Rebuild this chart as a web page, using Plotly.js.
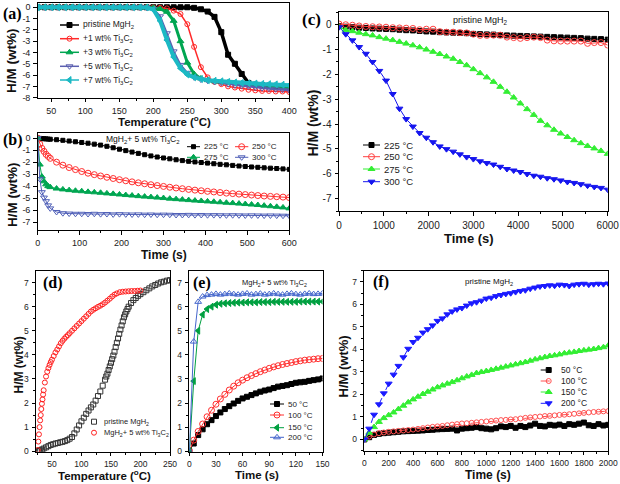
<!DOCTYPE html>
<html><head><meta charset="utf-8">
<script src="https://cdn.plot.ly/plotly-3.0.1.min.js"></script>
<style>html,body{margin:0;padding:0;background:#fff}#chart{width:620px;height:484px}</style>
</head><body><div id="chart"></div>
<script>
// ================= DATA =================
// (a) non-isothermal dehydrogenation
const aTemp=[30,40,50,60,70,80,90,100,110,120,130,140,150,160,170,180,190,200,210,220,230,240,250,260,270,280,290,300,310,320,330,340,350,360,370,380,390,400];
const aPristine=[0,0,0,0,0,0,0,0,0,0,0,0,0,0,0,0,0,0,0,0,0,0,0,-0.05,-0.18,-0.38,-0.85,-2.2,-4.2,-5.0,-5.9,-6.7,-6.85,-6.9,-6.95,-7.0,-7.0,-7.05];
const aTi1=[0,0,0,0,0,0,0,0,0,0,0,0,0,0,0,0,0,-0.02,-0.05,-0.1,-0.3,-0.6,-1.5,-3.5,-5.3,-6.2,-6.6,-6.8,-7.0,-7.1,-7.2,-7.3,-7.35,-7.4,-7.4,-7.45,-7.45,-7.5];
const aTi3=[0,0,0,0,0,0,0,0,0,0,0,0,0,0,0,0,0,-0.05,-0.15,-0.4,-1.2,-3.0,-4.9,-5.9,-6.3,-6.45,-6.55,-6.6,-6.65,-6.7,-6.75,-6.8,-6.85,-6.9,-6.95,-7.0,-7.05,-7.1];
const aTi5=[0,0,0,0,0,0,0,0,0,0,0,0,0,0,0,0,-0.02,-0.15,-0.8,-2.3,-3.9,-5.1,-5.8,-6.2,-6.4,-6.5,-6.6,-6.7,-6.8,-6.9,-6.95,-7.0,-7.1,-7.15,-7.2,-7.25,-7.3,-7.35];
const aTi7=[0,0,0,0,0,0,0,0,0,0,0,0,0,0,0,0,-0.02,-0.2,-1.2,-2.9,-4.4,-5.4,-5.95,-6.2,-6.35,-6.45,-6.5,-6.55,-6.6,-6.65,-6.7,-6.72,-6.75,-6.78,-6.8,-6.82,-6.85,-6.9];

// (b) isothermal dehydrogenation, MgH2 + 5 wt% Ti3C2
const bTime=[0,5,10,15,20,25,30,45,60,75,90,105,120,135,150,165,180,195,210,225,240,255,270,285,300,315,330,345,360,375,390,405,420,435,450,465,480,495,510,525,540,555,570,585,600];
const b225=[0,-0.02,-0.04,-0.05,-0.06,-0.08,-0.09,-0.13,-0.18,-0.24,-0.3,-0.36,-0.42,-0.5,-0.58,-0.68,-0.8,-0.92,-1.04,-1.16,-1.27,-1.38,-1.48,-1.57,-1.65,-1.72,-1.8,-1.87,-1.93,-1.98,-2.03,-2.08,-2.13,-2.18,-2.22,-2.27,-2.32,-2.36,-2.4,-2.43,-2.47,-2.5,-2.53,-2.56,-2.6];
const b250=[0,-0.5,-0.85,-1.1,-1.35,-1.52,-1.68,-2.0,-2.25,-2.45,-2.62,-2.78,-2.92,-3.04,-3.15,-3.26,-3.36,-3.46,-3.55,-3.64,-3.72,-3.8,-3.88,-3.95,-4.02,-4.09,-4.15,-4.21,-4.27,-4.33,-4.38,-4.43,-4.48,-4.53,-4.58,-4.62,-4.66,-4.7,-4.74,-4.78,-4.82,-4.85,-4.88,-4.91,-4.95];
const b275=[0,-2.2,-3.2,-3.6,-3.85,-4.0,-4.08,-4.2,-4.27,-4.33,-4.38,-4.42,-4.47,-4.51,-4.55,-4.6,-4.64,-4.69,-4.74,-4.78,-4.83,-4.87,-4.91,-4.95,-4.99,-5.04,-5.08,-5.12,-5.16,-5.2,-5.23,-5.27,-5.3,-5.34,-5.38,-5.41,-5.45,-5.49,-5.53,-5.57,-5.62,-5.67,-5.72,-5.77,-5.85];
const b300=[0,-3.4,-4.5,-4.95,-5.25,-5.6,-5.85,-6.15,-6.25,-6.28,-6.3,-6.3,-6.32,-6.3,-6.33,-6.32,-6.35,-6.33,-6.35,-6.36,-6.35,-6.37,-6.36,-6.38,-6.37,-6.38,-6.4,-6.4,-6.39,-6.41,-6.4,-6.42,-6.41,-6.42,-6.43,-6.42,-6.43,-6.44,-6.43,-6.44,-6.45,-6.44,-6.45,-6.46,-6.47];

// (c) isothermal dehydrogenation, pristine MgH2
const cTime=[0,150,300,450,600,750,900,1050,1200,1350,1500,1650,1800,1950,2100,2250,2400,2550,2700,2850,3000,3150,3300,3450,3600,3750,3900,4050,4200,4350,4500,4650,4800,4950,5100,5250,5400,5550,5700,5850,6000];
const c225=[-0.05,-0.08,-0.1,-0.12,-0.13,-0.15,-0.16,-0.17,-0.18,-0.2,-0.22,-0.23,-0.25,-0.27,-0.28,-0.3,-0.31,-0.32,-0.33,-0.34,-0.37,-0.38,-0.39,-0.4,-0.42,-0.43,-0.44,-0.45,-0.46,-0.47,-0.48,-0.49,-0.5,-0.51,-0.52,-0.53,-0.54,-0.56,-0.57,-0.58,-0.6];
const c250=[0.03,0.0,-0.02,-0.05,-0.07,-0.08,-0.09,-0.1,-0.12,-0.13,-0.14,-0.15,-0.2,-0.18,-0.18,-0.28,-0.3,-0.3,-0.32,-0.33,-0.38,-0.43,-0.43,-0.42,-0.42,-0.5,-0.52,-0.55,-0.52,-0.5,-0.52,-0.62,-0.65,-0.66,-0.66,-0.66,-0.66,-0.75,-0.72,-0.72,-0.82];
const c275=[-0.1,-0.21,-0.26,-0.32,-0.38,-0.43,-0.5,-0.56,-0.62,-0.69,-0.76,-0.83,-0.91,-1.0,-1.09,-1.18,-1.28,-1.37,-1.5,-1.63,-1.79,-1.95,-2.12,-2.3,-2.5,-2.7,-2.93,-3.17,-3.4,-3.63,-3.87,-4.05,-4.23,-4.38,-4.52,-4.65,-4.77,-4.88,-4.98,-5.08,-5.2];
const c300=[-0.1,-0.38,-0.63,-0.9,-1.17,-1.5,-1.86,-2.25,-2.79,-3.38,-3.8,-4.1,-4.36,-4.55,-4.73,-4.9,-5.01,-5.11,-5.22,-5.33,-5.41,-5.5,-5.57,-5.63,-5.72,-5.81,-5.87,-5.93,-6.01,-6.08,-6.12,-6.18,-6.22,-6.27,-6.33,-6.37,-6.42,-6.48,-6.53,-6.57,-6.64];

// (d) non-isothermal hydrogenation
const dPristineT=[26,28,30,33,36,40,44,48,52,56,60,64,68,72,76,80,84,88,92,96,100,104,108,112,116,120,124,128,132,136,140,142,144,146,148,150,152,154,156,158,160,162,164,166,168,170,172,174,176,178,180,184,188,192,196,200,205,210,215,220,225,230,235,240,245,250];
const dPristine=[0,0.02,0.04,0.07,0.11,0.16,0.21,0.26,0.29,0.32,0.34,0.37,0.39,0.42,0.46,0.52,0.59,0.74,0.9,1.07,1.24,1.39,1.55,1.69,1.82,1.94,2.1,2.29,2.48,2.72,2.97,3.1,3.22,3.37,3.52,3.67,3.82,3.97,4.13,4.32,4.5,4.68,4.87,5.05,5.22,5.39,5.56,5.68,5.8,5.9,6.0,6.15,6.27,6.36,6.45,6.52,6.6,6.68,6.76,6.84,6.9,6.96,7.01,7.04,7.08,7.1];
const dTiT=[26,27,28,29,30,31,32,33,34,35,36,38,40,42,44,46,48,50,53,56,59,62,65,68,71,74,77,80,84,88,92,96,100,104,108,112,116,120,124,128,132,136,140,144,148,152,156,160,165,170,175,180,185,190,195,200];
const dTi=[0.05,0.4,0.7,1.0,1.28,1.5,1.75,1.97,2.15,2.35,2.53,2.85,3.1,3.3,3.45,3.58,3.7,3.8,3.95,4.1,4.22,4.35,4.48,4.58,4.67,4.75,4.82,4.9,5.0,5.1,5.2,5.3,5.4,5.5,5.6,5.7,5.8,5.87,5.93,5.99,6.04,6.1,6.17,6.25,6.33,6.42,6.5,6.55,6.6,6.62,6.63,6.64,6.65,6.65,6.66,6.67];

// (e) isothermal hydrogenation, MgH2 + 5 wt% Ti3C2
const eTime=[0,5,10,15,20,25,30,35,40,45,50,55,60,65,70,75,80,85,90,95,100,105,110,115,120,125,130,135,140,145,150];
const e50=[0,0.32,0.67,0.91,1.12,1.29,1.46,1.61,1.75,1.87,1.98,2.09,2.19,2.26,2.33,2.4,2.47,2.52,2.56,2.62,2.68,2.71,2.74,2.79,2.84,2.86,2.88,2.92,2.95,2.98,3.02];
const e100=[0,0.46,0.82,1.13,1.43,1.7,1.95,2.17,2.36,2.54,2.7,2.84,2.95,3.05,3.14,3.22,3.3,3.37,3.44,3.5,3.55,3.6,3.64,3.68,3.72,3.75,3.78,3.8,3.82,3.84,3.85];
const e150=[0,2.91,5.0,5.67,5.9,6.0,6.08,6.12,6.14,6.15,6.16,6.17,6.17,6.18,6.18,6.18,6.19,6.19,6.19,6.2,6.2,6.2,6.2,6.2,6.2,6.21,6.21,6.21,6.21,6.21,6.21];
const e200=[0,4.55,6.2,6.42,6.48,6.5,6.53,6.5,6.52,6.55,6.52,6.5,6.53,6.55,6.5,6.52,6.54,6.5,6.52,6.55,6.52,6.5,6.53,6.55,6.52,6.5,6.53,6.55,6.52,6.53,6.55];

// (f) isothermal hydrogenation, pristine MgH2
const fTime=[0,40,80,120,160,200,240,280,320,360,400,440,480,520,560,600,640,680,720,760,800,840,880,920,960,1000,1040,1080,1120,1160,1200,1240,1280,1320,1360,1400,1440,1480,1520,1560,1600,1640,1680,1720,1760,1800,1840,1880,1920,1960,2000];
const f50=[0,0.1,0.2,0.25,0.28,0.3,0.32,0.34,0.36,0.37,0.38,0.39,0.4,0.42,0.43,0.45,0.46,0.47,0.48,0.4,0.48,0.5,0.52,0.55,0.5,0.48,0.45,0.5,0.58,0.55,0.6,0.52,0.6,0.55,0.62,0.7,0.6,0.58,0.65,0.62,0.66,0.6,0.68,0.65,0.7,0.75,0.63,0.6,0.68,0.62,0.65];
const f100=[0,0.13,0.22,0.28,0.31,0.34,0.36,0.38,0.4,0.42,0.44,0.47,0.5,0.53,0.56,0.58,0.6,0.63,0.66,0.68,0.71,0.72,0.74,0.76,0.78,0.8,0.82,0.84,0.86,0.87,0.89,0.9,0.93,0.96,0.98,1.0,1.02,1.04,1.05,1.07,1.09,1.1,1.12,1.14,1.16,1.18,1.2,1.22,1.23,1.25,1.26];
const f150=[0,0.3,0.55,0.78,0.95,1.08,1.2,1.35,1.5,1.65,1.78,1.9,2.02,2.12,2.22,2.32,2.4,2.48,2.55,2.63,2.72,2.8,2.87,2.95,3.0,3.04,3.09,3.14,3.19,3.24,3.29,3.34,3.39,3.44,3.5,3.56,3.61,3.66,3.71,3.74,3.78,3.83,3.86,3.89,3.93,3.96,3.99,4.02,4.06,4.1,4.18];
const f200=[0,0.48,1.1,1.56,2.05,2.48,2.88,3.27,3.65,4.03,4.33,4.52,4.75,4.9,5.07,5.27,5.38,5.56,5.69,5.78,5.84,5.95,6.05,6.1,6.17,6.26,6.3,6.37,6.42,6.47,6.5,6.55,6.6,6.63,6.7,6.75,6.8,6.82,6.85,6.83,6.88,6.86,6.82,6.88,6.9,6.92,6.88,6.9,6.92,6.9,6.93];

// ================= STYLE / LAYOUT =================
const FONT='Arial, "Liberation Sans", sans-serif';
const SERIF='"Times New Roman", "Liberation Serif", serif';
const W=620,H=484;
const px=v=>v/W, py=v=>1-v/H;
const TI='Ti<sub>3</sub>C<sub>2</sub>';
const MG='MgH<sub>2</sub>';

const ST={
 aP:{color:'#000000',sym:'square',ms:5,lw:3.5},
 a1:{color:'#ff2a2a',sym:'circle-open',ms:5,lw:1.5},
 a3:{color:'#00a651',sym:'triangle-up',ms:6,lw:3},
 a5:{color:'#5b5fb0',sym:'triangle-down-open',ms:6,lw:2},
 a7:{color:'#1cb9c4',sym:'triangle-left',ms:6,lw:4},
 b225:{color:'#000000',sym:'square',ms:4,lw:1},
 b250:{color:'#ff3030',sym:'circle-open',ms:6,lw:1},
 b275:{color:'#00a651',sym:'triangle-up',ms:6,lw:1},
 b300:{color:'#5060b8',sym:'triangle-down-open',ms:6,lw:1},
 c225:{color:'#000000',sym:'square',ms:5,lw:1},
 c250:{color:'#ff4040',sym:'circle-open',ms:6,lw:1},
 c275:{color:'#33ee33',sym:'triangle-up',ms:6,lw:1},
 c300:{color:'#1515ee',sym:'triangle-down',ms:6,lw:1},
 dP:{color:'#333333',sym:'square-open',ms:5,mode:'markers'},
 dT:{color:'#ff2020',sym:'circle-open',ms:5,mode:'markers'},
 e50:{color:'#000000',sym:'square',ms:5,lw:1},
 e100:{color:'#ff3030',sym:'circle-open',ms:6,lw:1},
 e150:{color:'#00a040',sym:'triangle-left',ms:6,lw:1},
 e200:{color:'#4466cc',sym:'triangle-up-open',ms:6,lw:1},
 f50:{color:'#000000',sym:'square',ms:5,lw:1,dash:'dash'},
 f100:{color:'#ff5050',sym:'circle-open',ms:5,lw:1,dash:'dash'},
 f150:{color:'#33ee33',sym:'triangle-up',ms:6,lw:1,dash:'dash'},
 f200:{color:'#1a1aff',sym:'triangle-down',ms:6,lw:1,dash:'dash'}
};

const traces=[];
function addSeries(ax,x,y,k){
  const st=ST[k];
  traces.push({type:'scatter',x:x,y:y,xaxis:'x'+ax,yaxis:'y'+ax,mode:st.mode||'lines+markers',
    line:{color:st.color,width:st.lw||1,dash:st.dash||'solid'},
    marker:{symbol:st.sym,size:st.ms,color:st.color,line:{color:st.color,width:1}},
    showlegend:false,hoverinfo:'skip'});
}
addSeries('',aTemp,aPristine,'aP');
addSeries('',aTemp,aTi1,'a1');
addSeries('',aTemp,aTi3,'a3');
addSeries('',aTemp,aTi5,'a5');
addSeries('',aTemp,aTi7,'a7');
addSeries('2',bTime,b225,'b225');
addSeries('2',bTime,b250,'b250');
addSeries('2',bTime,b275,'b275');
addSeries('2',bTime,b300,'b300');
addSeries('3',cTime,c225,'c225');
addSeries('3',cTime,c250,'c250');
addSeries('3',cTime,c275,'c275');
addSeries('3',cTime,c300,'c300');
addSeries('4',dPristineT,dPristine,'dP');
addSeries('4',dTiT,dTi,'dT');
addSeries('5',eTime,e50,'e50');
addSeries('5',eTime,e100,'e100');
addSeries('5',eTime,e150,'e150');
addSeries('5',eTime,e200,'e200');
addSeries('6',fTime,f50,'f50');
addSeries('6',fTime,f100,'f100');
addSeries('6',fTime,f150,'f150');
addSeries('6',fTime,f200,'f200');

function axis(dom,range,tv,minorStep,tf,anchor){
  const vals=[];
  for(let v=tv[0]; v<=tv[1]+1e-9; v+=tv[2]) vals.push(+v.toFixed(6));
  const a={domain:dom,range:range,anchor:anchor,tickmode:'array',tickvals:vals,ticktext:vals.map(v=>String(v)),
    showline:true,mirror:true,linecolor:'#000',linewidth:1,ticks:'outside',ticklen:3.5,tickwidth:1,tickcolor:'#000',
    showgrid:false,zeroline:false,tickfont:{family:FONT,size:tf,color:'#222'},fixedrange:true,ticklabelstandoff:1};
  if(minorStep) a.minor={tickmode:'linear',tick0:0,dtick:minorStep,ticks:'outside',ticklen:2,tickwidth:1,tickcolor:'#000',showgrid:false};
  return a;
}

const layout={width:W,height:H,margin:{l:0,r:0,t:0,b:0},paper_bgcolor:'#fff',plot_bgcolor:'rgba(0,0,0,0)',showlegend:false,
  font:{family:FONT,color:'#222'},
  xaxis: axis([px(37.7),px(289.3)],[30,400],[50,400,50],25,9,'y'),
  yaxis: axis([py(97.7),py(3.3)],[-8,0.35],[-8,0,1],null,9,'x'),
  xaxis2:axis([px(37.7),px(289.3)],[0,600],[0,600,100],50,9,'y2'),
  yaxis2:axis([py(230),py(132.5)],[-7.65,0.47],[-7,0,1],null,9,'x2'),
  xaxis3:axis([px(339),px(607.7)],[0,6000],[0,6000,1000],500,10,'y3'),
  yaxis3:axis([py(211),py(12.3)],[-7.5,0.5],[-7,0,1],0.5,10,'x3'),
  xaxis4:axis([px(36),px(170)],[23,250],[50,250,50],25,8.5,'y4'),
  yaxis4:axis([py(451.7),py(271)],[-0.02,7.48],[0,7,1],0.5,8.5,'x4'),
  xaxis5:axis([px(189.3),px(322.5)],[0,150],[0,150,30],15,8.5,'y5'),
  yaxis5:axis([py(451.7),py(271)],[-0.02,7.48],[0,7,1],0.5,8.5,'x5'),
  xaxis6:axis([px(364.3),px(608.3)],[0,2000],[0,2000,200],100,8.5,'y6'),
  yaxis6:axis([py(450.7),py(270.7)],[-0.5,7.5],[0,7,1],0.5,8.5,'x6'),
  // overlay in page pixels for the hand-placed legend keys
  xaxis7:{domain:[0,1],range:[0,W],visible:false,fixedrange:true,anchor:'y7'},
  yaxis7:{domain:[0,1],range:[H,0],visible:false,fixedrange:true,anchor:'x7'},
  annotations:[],shapes:[]
};

const ann=layout.annotations;
function txt(t,x,y,size,opt){
  ann.push(Object.assign({text:t,x:px(x),y:py(y),xref:'paper',yref:'paper',showarrow:false,
    xanchor:'center',yanchor:'middle',font:{family:FONT,size:size,color:'#111'}},opt||{}));
}
// panel labels
[['(a)',12.5,14,16],['(b)',12.5,140,16],['(c)',311,20,17],['(d)',53,283,16],['(e)',202,283,16],['(f)',380.5,282,16]]
  .forEach(p=>txt('<b>'+p[0]+'</b>',p[1],p[2],p[3],{font:{family:SERIF,size:p[3],color:'#000'}}));
// axis titles
const yT='<b>H/M (wt%)</b>';
txt(yT,12,61,13.5,{textangle:-90});
txt(yT,12,195,13.5,{textangle:-90});
txt(yT,312.5,123,14,{textangle:-90});
txt(yT,18.5,365,12,{textangle:-90});
txt(yT,342.5,366,13,{textangle:-90});
txt('<b>Temperature (<sup>o</sup>C)</b>',164,121.5,11.5);
txt('<b>Time (s)</b>',163.5,255,12);
txt('<b>Time (s)</b>',469,239,13);
txt('<b>Temperature (<sup>o</sup>C)</b>',105,475,11.5);
txt('<b>Time (s)</b>',257,475,11.5);
txt('<b>Time (s)</b>',487.5,475,12);
// in-panel captions
txt(MG+'+ 5 wt% '+TI,142.5,140,8.5);
txt('pristine '+MG,480,20.7,9);
txt(MG+'+ 5 wt% '+TI,274,282.7,7.5);
txt('pristine '+MG,489,281.7,8);

// legends: [style, label, x0, x1, y, fontsize]
const LEG=[
 ['aP','pristine '+MG,60,79,25,8.5],['a1','+1 wt% '+TI,60,79,38.7,8.5],['a3','+3 wt% '+TI,60,79,52.3,8.5],
 ['a5','+5 wt% '+TI,60,79,66.3,8.5],['a7','+7 wt% '+TI,60,79,80,8.5],
 ['b225','225 °C',187,200,146.7,8],['b250','250 °C',235,248.3,146.7,8],
 ['b275','275 °C',187,200,157.3,8],['b300','300 °C',235,248.3,157.3,8],
 ['c225','225 °C',363,380,145,9.5],['c250','250 °C',363,380,156.7,9.5],['c275','275 °C',363,380,169,9.5],['c300','300 °C',363,380,181.7,9.5],
 ['dP','pristine '+MG,94,94,421.7,7.5],['dT',MG+'+ 5 wt% '+TI,94,94,432.7,7.5],
 ['e50','50 °C',270,284,404,8],['e100','100 °C',270,284,415,8],['e150','150 °C',270,284,427.7,8],['e200','200 °C',270,284,437.3,8],
 ['f50','50 °C',540.7,556.7,370,8.5],['f100','100 °C',540.7,556.7,381,8.5],['f150','150 °C',540.7,556.7,392,8.5],['f200','200 °C',540.7,556.7,403.3,8.5]
];
LEG.forEach(e=>{
  const st=ST[e[0]];
  if(e[3]>e[2]) traces.push({type:'scatter',x:[e[2],e[3]],y:[e[4],e[4]],xaxis:'x7',yaxis:'y7',mode:'lines',
    line:{color:st.color,width:Math.min(st.lw||1,1.5),dash:st.dash||'solid'},showlegend:false,hoverinfo:'skip'});
  traces.push({type:'scatter',x:[(e[2]+e[3])/2],y:[e[4]],xaxis:'x7',yaxis:'y7',mode:'markers',
    marker:{symbol:st.sym,size:st.ms,color:st.color,line:{color:st.color,width:1}},showlegend:false,hoverinfo:'skip'});
  const tx=e[3]>e[2]?e[3]+2:e[3]+8;
  txt(e[1],tx,e[4],e[5],{xanchor:'left',font:{family:FONT,size:e[5],color:'#222'}});
});

Plotly.newPlot('chart',traces,layout,{staticPlot:true,displayModeBar:false});
</script>
</body></html>
